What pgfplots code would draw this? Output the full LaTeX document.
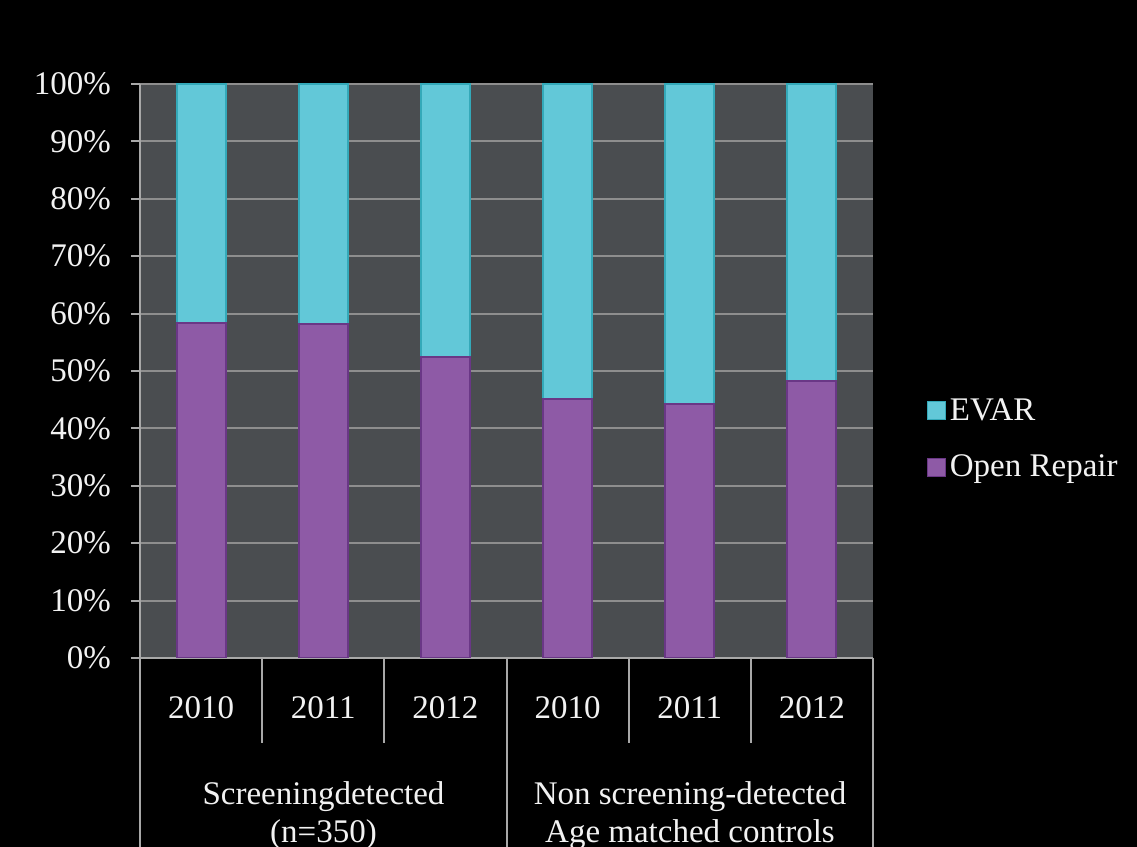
\documentclass[border=0pt]{standalone}
\usepackage{fontspec}
\setmainfont{Liberation Serif}
\usepackage{pgfplots}
\usepackage{pgfplotstable}
\pgfplotsset{compat=1.18}

\definecolor{plotbg}{HTML}{4A4D50}
\definecolor{gridc}{HTML}{8E8E8E}
\definecolor{axisc}{HTML}{A8A8A8}
\definecolor{evar}{HTML}{62C8D8}
\definecolor{evaredge}{HTML}{34A9B9}
\definecolor{openr}{HTML}{8E5AA6}
\definecolor{openredge}{HTML}{6A3786}
\definecolor{txt}{HTML}{F2F2F2}

% share of repairs (%) per year and cohort
\pgfplotstableread{
x open evar
0 58.3 41.7
1 58.2 41.8
2 52.4 47.6
3 45.1 54.9
4 44.2 55.8
5 48.2 51.8
}\repairs

\begin{document}
\begin{tikzpicture}
\fill[black] (0pt,0pt) rectangle (568.5pt,423.5pt);
\begin{axis}[
  at={(70pt,94.5pt)}, anchor=south west,
  scale only axis, width=366.5pt, height=287pt,
  ybar stacked, bar width=24.5pt,
  xmin=-0.5, xmax=5.5, ymin=0, ymax=100,
  xtick={0,...,5},
  xticklabels={2010,2011,2012,2010,2011,2012},
  x tick style={draw=none},
  xticklabel style={anchor=base, yshift=-26pt},
  ytick={0,10,...,100},
  yticklabel={\pgfmathprintnumber{\tick}\%},
  yticklabel style={xshift=-6.5pt},
  /pgf/number format/assume math mode=true,
  ticklabel style={font=\fontsize{16.5}{19}\selectfont, text=txt},
  axis background/.style={fill=plotbg},
  ymajorgrids, grid style={gridc, line width=1pt},
  axis x line=bottom, axis y line=left,
  axis line style={axisc, line width=1pt, -},
  tick align=outside, major tick length=4.5pt,
  y tick style={axisc, line width=1pt},
  legend style={at={(1.073,0.46)}, anchor=north west, draw=none, fill=none,
    text=txt, font=\fontsize{16.5}{19}\selectfont, row sep=12pt,
    inner sep=0pt, legend cell align=left,
    /tikz/every even column/.append style={column sep=5.5pt}},
  reverse legend,
  legend image code/.code={\draw[#1, line width=0.5pt] (0pt,-4.5pt) rectangle (9pt,4.5pt);},
]
\addplot[fill=openr, draw=openredge, line width=1pt] table[x=x, y=open] {\repairs};
\addplot[fill=evar, draw=evaredge, line width=1pt] table[x=x, y=evar] {\repairs};
\legend{Open Repair, EVAR}
\end{axis}
% category separators below the plot
\foreach \xs in {131.1, 192.2, 314.4, 375.4}
  \draw[axisc, line width=1pt] (\xs pt,94.5pt) -- (\xs pt,52pt);
\foreach \xs in {70, 253.5, 436.5}
  \draw[axisc, line width=1pt] (\xs pt,94.5pt) -- (\xs pt,-5pt);
\node[text=txt, font=\fontsize{16.5}{19}\selectfont, align=center, anchor=base]
  at (161.75pt,2pt) {Screeningdetected\\(n=350)};
\node[text=txt, font=\fontsize{16.5}{19}\selectfont, align=center, anchor=base]
  at (345pt,2pt) {Non screening-detected\\Age matched controls};
\pgfresetboundingbox
\useasboundingbox (0pt,0pt) rectangle (568.5pt,423.5pt);
\end{tikzpicture}
\end{document}
